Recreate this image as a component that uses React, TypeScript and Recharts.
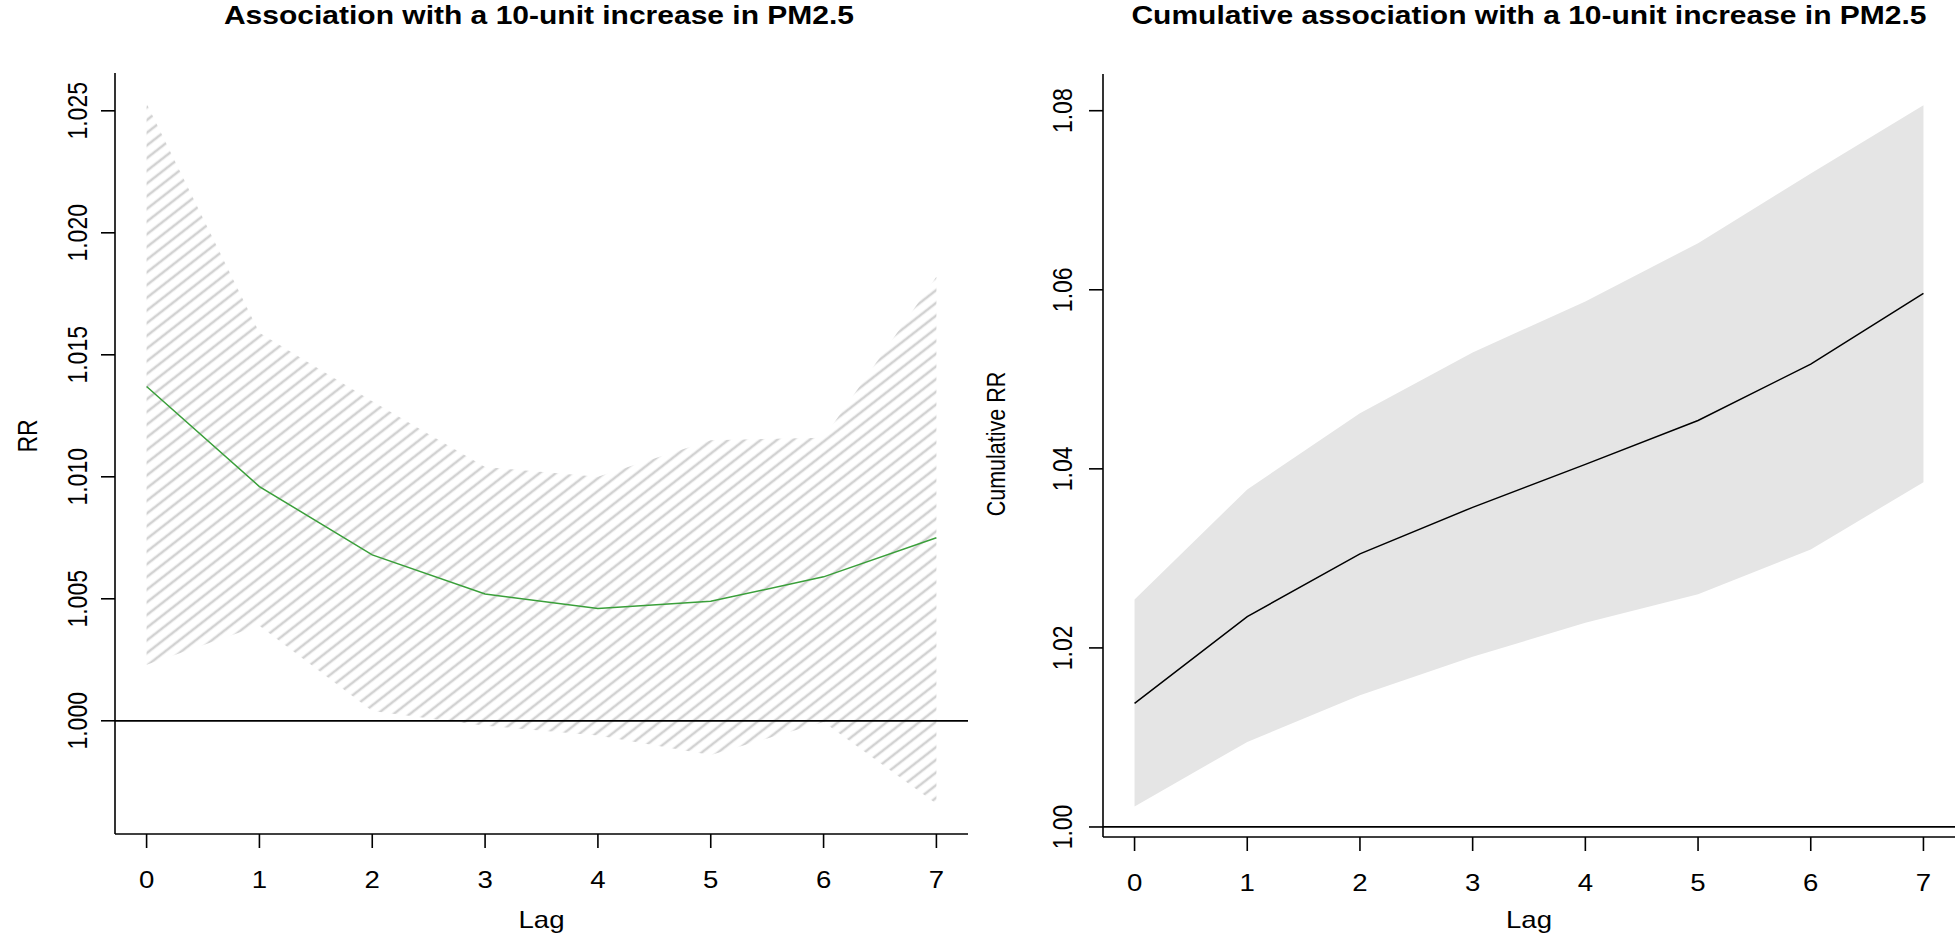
import { ComposedChart, Area, Line, XAxis, YAxis, ReferenceLine, Label } from "recharts";

// lag days
const lags = [0, 1, 2, 3, 4, 5, 6, 7];

// lag-specific RR for a 10-unit PM2.5 increase
const rrFit = [1.0137, 1.0096, 1.0068, 1.0052, 1.0046, 1.0049, 1.0059, 1.0075];
const rrLow = [1.0023, 1.0039, 1.0004, 0.9998, 0.9994, 0.9986, 0.99995, 0.9966];
const rrHigh = [1.0253, 1.0159, 1.0131, 1.0104, 1.01, 1.0115, 1.0116, 1.0182];

// cumulative RR
const cumFit = [1.0138, 1.0235, 1.0305, 1.0357, 1.0405, 1.0454, 1.0517, 1.0596];
const cumLow = [1.0023, 1.0095, 1.0147, 1.019, 1.0228, 1.026, 1.031, 1.0385];
const cumHigh = [1.0254, 1.0377, 1.0462, 1.053, 1.0587, 1.0652, 1.073, 1.0806];

const rrTicks = [1.0, 1.005, 1.01, 1.015, 1.02, 1.025];
const rrTickLabels = ["1.000", "1.005", "1.010", "1.015", "1.020", "1.025"];
const cumTicks = [1.0, 1.02, 1.04, 1.06, 1.08];
const cumTickLabels = ["1.00", "1.02", "1.04", "1.06", "1.08"];

const FONT = "'Liberation Sans', Arial, Helvetica, sans-serif";
// the source picture is stretched sideways, text included
const STRETCH = 1.2;

type Row = { lag: number; fit: number; band: [number, number] };

function buildRows(fit: number[], low: number[], high: number[]): Row[] {
  return lags.map((lag, i) => ({ lag, fit: fit[i], band: [low[i], high[i]] }));
}

// horizontal text, widened
function WideText({ x, y, size, bold, children }: any) {
  return (
    <text
      transform={`translate(${x}, ${y}) scale(${STRETCH}, 1)`}
      x={0}
      y={0}
      textAnchor="middle"
      fontFamily={FONT}
      fontWeight={bold ? "bold" : "normal"}
      fontSize={size}
      fill="#000"
    >
      {children}
    </text>
  );
}

// vertical text reading bottom to top, (x, y) = baseline centre
function UpText({ x, y, size, children }: any) {
  return (
    <text
      transform={`translate(${x}, ${y}) scale(${STRETCH}, 1) rotate(-90)`}
      x={0}
      y={0}
      textAnchor="middle"
      fontFamily={FONT}
      fontSize={size}
      fill="#000"
    >
      {children}
    </text>
  );
}

type PanelProps = {
  left: number;
  width: number;
  rows: Row[];
  yDomain: [number, number];
  yTicks: number[];
  yTickLabels: string[];
  yAxisWidth: number;
  top: number;
  right: number;
  xAxisHeight: number;
  title: string;
  titleX: number;
  yLabel: string;
  yLabelX: number;
  yLabelY: number;
  yLabelSize: number;
  yTickShift: number;
  hatched: boolean;
  lineColor: string;
};

function Panel(p: PanelProps) {
  const labelFor = (v: number) => {
    const i = p.yTicks.findIndex((t) => Math.abs(t - v) < 1e-9);
    return i >= 0 ? p.yTickLabels[i] : String(v);
  };

  const XTick = (props: any) => (
    <WideText x={props.x} y={props.y + 40} size={23}>
      {props.payload.value}
    </WideText>
  );

  const YTick = (props: any) => (
    <UpText x={props.x - p.yTickShift} y={props.y} size={23}>
      {labelFor(props.payload.value)}
    </UpText>
  );

  return (
    <div style={{ position: "absolute", left: p.left, top: 0 }}>
      <ComposedChart
        width={p.width}
        height={940}
        data={p.rows}
        margin={{ top: p.top, right: p.right, bottom: 0, left: 0 }}
      >
        <defs>
          <pattern
            id="hatch"
            patternUnits="userSpaceOnUse"
            width="10"
            height="10"
            patternTransform="rotate(-38)"
          >
            <line x1="0" y1="5" x2="10" y2="5" stroke="#d2d2d2" strokeWidth="2.6" />
          </pattern>
        </defs>
        <XAxis
          dataKey="lag"
          type="number"
          domain={[-0.28, 7.28]}
          ticks={lags}
          allowDataOverflow
          height={p.xAxisHeight}
          tickSize={14}
          tickMargin={0}
          axisLine={{ stroke: "#000", strokeWidth: 1.6 }}
          tickLine={{ stroke: "#000", strokeWidth: 1.6 }}
          tick={XTick}
          interval={0}
        >
          <Label
            content={(lp: any) => (
              <WideText x={lp.viewBox.x + lp.viewBox.width / 2} y={928} size={23}>
                Lag
              </WideText>
            )}
          />
          <Label
            content={() => (
              <WideText x={p.titleX} y={24} size={25} bold>
                {p.title}
              </WideText>
            )}
          />
        </XAxis>
        <YAxis
          type="number"
          domain={p.yDomain}
          ticks={p.yTicks}
          allowDataOverflow
          width={p.yAxisWidth}
          tickSize={14}
          tickMargin={0}
          axisLine={{ stroke: "#000", strokeWidth: 1.6 }}
          tickLine={{ stroke: "#000", strokeWidth: 1.6 }}
          tick={YTick}
          interval={0}
        >
          <Label
            content={() => (
              <UpText x={p.yLabelX} y={p.yLabelY} size={p.yLabelSize}>
                {p.yLabel}
              </UpText>
            )}
          />
        </YAxis>
        <Area
          type="linear"
          dataKey="band"
          stroke="none"
          fill={p.hatched ? "url(#hatch)" : "#e5e5e5"}
          fillOpacity={1}
          isAnimationActive={false}
          activeDot={false}
        />
        <ReferenceLine y={1} stroke="#000" strokeWidth={1.8} ifOverflow="visible" />
        <Line
          type="linear"
          dataKey="fit"
          stroke={p.lineColor}
          strokeWidth={1.5}
          dot={false}
          activeDot={false}
          isAnimationActive={false}
        />
      </ComposedChart>
    </div>
  );
}

export default function App() {
  return (
    <div
      style={{
        position: "absolute",
        left: 0,
        top: 0,
        width: 1960,
        height: 940,
        background: "#fff",
        overflow: "hidden",
      }}
    >
      <Panel
        left={0}
        width={980}
        rows={buildRows(rrFit, rrLow, rrHigh)}
        yDomain={[0.99536, 1.02655]}
        yTicks={rrTicks}
        yTickLabels={rrTickLabels}
        yAxisWidth={115}
        top={73}
        right={12}
        xAxisHeight={106}
        title="Association with a 10-unit increase in PM2.5"
        titleX={539}
        yLabel="RR"
        yLabelX={37}
        yLabelY={436}
        yLabelSize={23}
        yTickShift={14}
        hatched={true}
        lineColor="#3a9f3a"
      />
      <Panel
        left={980}
        width={980}
        rows={buildRows(cumFit, cumLow, cumHigh)}
        yDomain={[0.99888, 1.0841]}
        yTicks={cumTicks}
        yTickLabels={cumTickLabels}
        yAxisWidth={123}
        top={74}
        right={5}
        xAxisHeight={103}
        title="Cumulative association with a 10-unit increase in PM2.5"
        titleX={549}
        yLabel="Cumulative RR"
        yLabelX={25}
        yLabelY={444}
        yLabelSize={21.5}
        yTickShift={17}
        hatched={false}
        lineColor="#000"
      />
    </div>
  );
}
